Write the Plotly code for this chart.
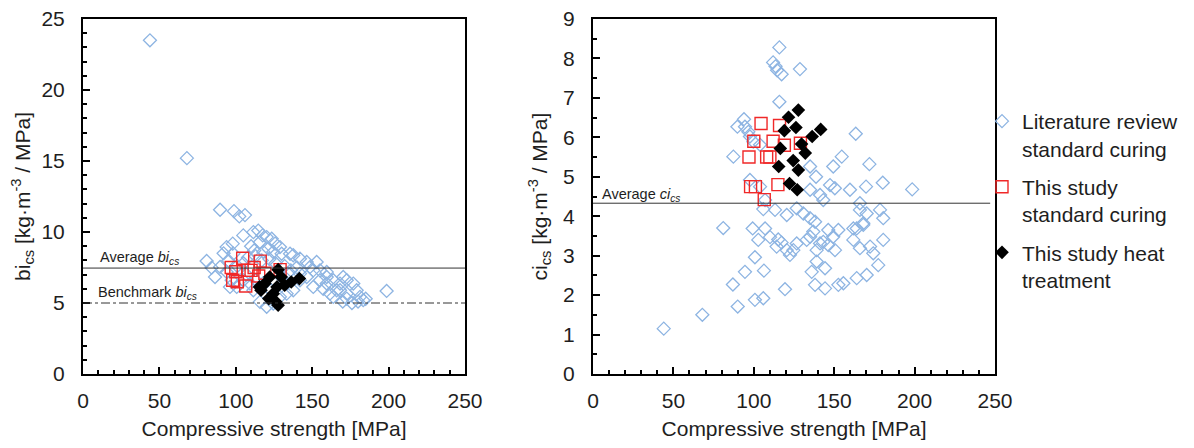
import plotly.graph_objects as go

# ---------------- data ----------------
# Literature review (standard curing) - left panel: compressive strength vs bi_cs
lit_cs_bi = [43.8, 68, 89.7, 98.8, 102.3, 106, 98, 104.9, 111.5, 114.7, 117.6, 120.2, 123.5, 125.7,
             128.9, 115.8, 121.3, 124.5, 130, 135.5, 142, 146.4, 152.9, 148.6, 155.1, 80.9, 84.2, 86.4,
             89.7, 94, 97.3, 100.6, 94, 98.4, 95.1, 155.1, 159.5, 163.8, 168.2, 172.6, 176.9, 179.1,
             181.3, 172.6, 166, 161.6, 157.2, 146.4, 150.7, 142, 137.6, 133.3, 128.9, 120.2, 124.5,
             115.8, 104.9, 109.3, 111.5, 96.2, 198.7, 137.6, 150.7, 159.5, 170.3, 183.4, 168.2, 163.8,
             172.6, 159.5, 142, 110, 112, 118, 108, 113, 117, 122, 126, 132, 136, 140, 105, 92, 101,
             107, 113, 118, 123, 130, 134, 176, 180, 170, 185]
lit_bi = [23.5, 15.2, 11.57, 11.47, 11.1, 11.19, 9.18, 9.76, 9.99, 10.1, 9.76, 9.64, 9.53, 9.18,
          8.94, 9.29, 8.82, 8.59, 8.47, 8.47, 8.12, 7.89, 7.89, 7.54, 7.3, 7.96, 7.49, 6.83,
          7.54, 7.18, 6.6, 6.13, 8.94, 8.47, 8.0, 6.6, 6.83, 6.6, 6.37, 6.6, 6.37, 5.9,
          5.43, 5.66, 5.9, 5.66, 6.0, 6.83, 6.13, 6.6, 5.9, 5.66, 5.43, 4.73, 4.96,
          5.08, 6.6, 6.37, 5.9, 6.13, 5.85, 8.36, 7.3, 7.18, 6.83, 5.2, 5.9, 5.43,
          5.31, 6.37, 7.07, 9.0, 8.7, 8.6, 8.2, 8.3, 8.0, 8.1, 7.8, 7.6, 7.3, 7.5, 7.8, 8.5, 7.6,
          7.0, 6.6, 6.4, 5.9, 6.8, 7.1, 5.0, 5.1, 5.1, 5.3]

# Literature review (standard curing) - right panel: compressive strength vs ci_cs
lit_cs_ci = [44, 68, 81, 87, 90, 94.5, 99.3, 100.7, 100.7, 105.9, 106.3, 107, 102.8, 110.1, 115.2,
             117.3, 114.2, 120.5, 122.5, 124.6, 126.7, 132.9, 119.4, 137, 146.3, 152.6, 149.4, 143.2,
             141.2, 146.3, 150.5, 139.1, 135, 161.9, 168.1, 161.9, 166, 172.3, 174.3, 180.5, 177.4,
             170.2, 164, 155.7, 152.6, 144.3, 138.1, 136, 139.1, 144.3, 105.9, 113.2, 120.5, 126.7,
             130.8, 135, 138.1, 178.5, 180.5, 166, 170.2, 168.1, 164, 166, 115.9, 112, 113.5, 114.5,
             117.3, 128.7, 115.9, 93.9, 89.8, 94.5, 96.6, 97.6, 99.7, 103.9, 87.3, 163.4, 154.7,
             171.9, 149.4, 135, 138.7, 180.2, 169.8, 147.4, 150.4, 159.8, 198.5, 135, 141.2, 143.2,
             97.6, 103.9, 107]
lit_ci = [1.15, 1.5, 3.7, 2.27, 1.71, 2.59, 3.69, 2.96, 1.88, 1.92, 2.62, 3.69, 3.4, 3.47, 3.41,
          3.33, 3.23, 3.14, 3.02, 3.14, 3.31, 3.4, 2.15, 3.61, 3.65, 3.65, 3.48, 3.35,
          3.31, 3.27, 3.14, 3.14, 3.48, 3.69, 3.78, 3.4, 3.19, 3.23, 3.06, 3.4, 2.76,
          2.51, 2.43, 2.3, 2.26, 2.17, 2.26, 2.59, 2.85, 2.68, 4.18, 4.16, 4.03, 4.2,
          4.07, 3.95, 3.86, 4.16, 3.95, 4.16, 4.07, 3.82, 3.69, 4.33, 8.28, 7.9, 7.8, 7.7,
          7.6, 7.73, 6.9, 6.46, 6.27, 6.27, 6.14, 6.02, 5.89, 5.81, 5.51, 6.09, 5.51,
          5.32, 5.26, 5.26, 5.0, 4.85, 4.75, 4.79, 4.71, 4.67, 4.68, 4.67, 4.54, 4.41,
          4.92, 4.75, 4.41]

# This study - standard curing
std_cs = [97, 98, 100, 101, 104.5, 106.5, 108, 110, 112, 115, 116, 119, 129]
std_bi = [7.5, 6.6, 7.2, 6.5, 8.15, 6.2, 7.3, 7.3, 7.5, 6.9, 7.95, 7.1, 7.35]
std_ci = [5.5, 4.75, 5.9, 4.75, 6.35, 4.42, 5.5, 5.5, 5.9, 4.8, 6.3, 5.8, 5.85]

# This study - heat treatment
heat_cs = [115.5, 116.5, 119, 121.6, 122.2, 124.5, 126.2, 127, 127.7, 127.7, 129.7, 132, 136.3, 141.6]
heat_bi = [6.13, 5.9, 6.37, 5.31, 6.83, 5.66, 5.08, 6.13, 7.35, 4.85, 6.83, 6.25, 6.48, 6.72]
heat_ci = [5.26, 5.72, 6.17, 6.51, 4.83, 5.41, 6.25, 4.67, 6.69, 5.17, 5.83, 5.6, 6.02, 6.2]

avg_bi = 7.46
bench_bi = 5.0
avg_ci = 4.33

series_names = ["Literature review<br>standard curing",
                "This study<br>standard curing",
                "This study heat<br>treatment"]

# ---------------- styling ----------------
FONT = "Liberation Sans, Arial, sans-serif"
TXT = "#1e1e1e"
BLUE = "#8DB4E2"
RED = "#F02828"

OFF = 8  # page body margin
W, H = 1194 - 2 * OFF, 448 - 2 * OFF
def fx(px): return (px - OFF) / W
def fy(py): return (H - (py - OFF)) / H

fig = go.Figure()

lit_marker = dict(symbol="diamond-open", size=10, color=BLUE, line=dict(color=BLUE, width=1.3))
std_marker = dict(symbol="square-open", size=12, color=RED, line=dict(color=RED, width=1.4))
heat_marker = dict(symbol="diamond", size=10.5, color="black", line=dict(color="black", width=0))

fig.add_trace(go.Scatter(x=lit_cs_bi, y=lit_bi, mode="markers", marker=lit_marker,
                         name=series_names[0], legendgroup="a", xaxis="x", yaxis="y"))
fig.add_trace(go.Scatter(x=std_cs, y=std_bi, mode="markers", marker=std_marker,
                         name=series_names[1], legendgroup="b", xaxis="x", yaxis="y"))
fig.add_trace(go.Scatter(x=heat_cs, y=heat_bi, mode="markers", marker=heat_marker,
                         name=series_names[2], legendgroup="c", xaxis="x", yaxis="y"))

fig.add_trace(go.Scatter(x=lit_cs_ci, y=lit_ci, mode="markers", marker=lit_marker,
                         name=series_names[0], legendgroup="a", showlegend=False, xaxis="x2", yaxis="y2"))
fig.add_trace(go.Scatter(x=std_cs, y=std_ci, mode="markers", marker=std_marker,
                         name=series_names[1], legendgroup="b", showlegend=False, xaxis="x2", yaxis="y2"))
fig.add_trace(go.Scatter(x=heat_cs, y=heat_ci, mode="markers", marker=heat_marker,
                         name=series_names[2], legendgroup="c", showlegend=False, xaxis="x2", yaxis="y2"))

# reference lines
fig.add_shape(type="line", xref="x", yref="y", x0=0, x1=250, y0=avg_bi, y1=avg_bi,
              line=dict(color="#333333", width=1))
fig.add_shape(type="line", xref="x", yref="y", x0=0, x1=250, y0=bench_bi, y1=bench_bi,
              line=dict(color="#333333", width=1, dash="dashdot"))
fig.add_shape(type="line", xref="x2", yref="y2", x0=0, x1=247, y0=avg_ci, y1=avg_ci,
              line=dict(color="#333333", width=1))

ann_font = dict(family=FONT, size=14.5, color=TXT)
fig.add_annotation(xref="x", yref="y", x=10, y=8.17, text="Average <i>bi</i><sub><i>cs</i></sub>",
                   showarrow=False, xanchor="left", yanchor="middle", font=ann_font)
fig.add_annotation(xref="x", yref="y", x=8.5, y=5.72, text="Benchmark <i>bi</i><sub><i>cs</i></sub>",
                   showarrow=False, xanchor="left", yanchor="middle", font=ann_font)
fig.add_annotation(xref="x2", yref="y2", x=4.5, y=4.53, text="Average <i>ci</i><sub><i>cs</i></sub>",
                   showarrow=False, xanchor="left", yanchor="middle", font=ann_font)

tick_font = dict(family=FONT, size=21, color=TXT)
title_font = dict(family=FONT, size=21, color=TXT)

def xaxis_cfg(domain, anchor):
    return dict(domain=domain, anchor=anchor, range=[0, 250], dtick=50, tick0=0,
                ticks="inside", ticklen=7, tickwidth=1.5, tickcolor="black",
                minor=dict(dtick=10, ticks="inside", ticklen=4, tickwidth=1.5, tickcolor="black"),
                showline=True, linecolor="black", linewidth=2, mirror=True,
                showgrid=False, zeroline=False, tickfont=tick_font, automargin=False,
                ticklabeloverflow="allow", ticklabelstandoff=7,
                title=dict(text="Compressive strength [MPa]", font=title_font, standoff=15))

def yaxis_cfg(domain, anchor, rng, dt, mdt, title):
    return dict(domain=domain, anchor=anchor, range=rng, dtick=dt, tick0=0,
                ticks="inside", ticklen=7, tickwidth=1.5, tickcolor="black",
                minor=dict(dtick=mdt, ticks="inside", ticklen=4, tickwidth=1.5, tickcolor="black"),
                showline=True, linecolor="black", linewidth=2, mirror=True,
                showgrid=False, zeroline=False, tickfont=tick_font, automargin=False,
                ticklabeloverflow="allow", ticklabelstandoff=12,
                title=dict(text=title, font=title_font, standoff=10))

ydom = [fy(374), fy(19)]
fig.update_layout(
    width=W, height=H,
    margin=dict(l=0, r=0, t=0, b=0, autoexpand=False),
    paper_bgcolor="white", plot_bgcolor="white",
    font=dict(family=FONT, color=TXT),
    xaxis=xaxis_cfg([fx(83), fx(465)], "y"),
    yaxis=yaxis_cfg(ydom, "x", [0, 25], 5, 1, "bi<sub>cs</sub> [kg·m<sup>-3</sup> / MPa]"),
    xaxis2=xaxis_cfg([fx(593), fx(995)], "y2"),
    yaxis2=yaxis_cfg(ydom, "x2", [0, 9], 1, 0.5, "ci<sub>cs</sub> [kg·m<sup>-3</sup> / MPa]"),
    legend=dict(x=fx(982), y=fy(101), xanchor="left", yanchor="top",
                font=dict(family=FONT, size=21, color=TXT), valign="top",
                itemwidth=30, tracegroupgap=8, bgcolor="rgba(0,0,0,0)"),
    showlegend=True,
)

fig.write_html("out.html")
